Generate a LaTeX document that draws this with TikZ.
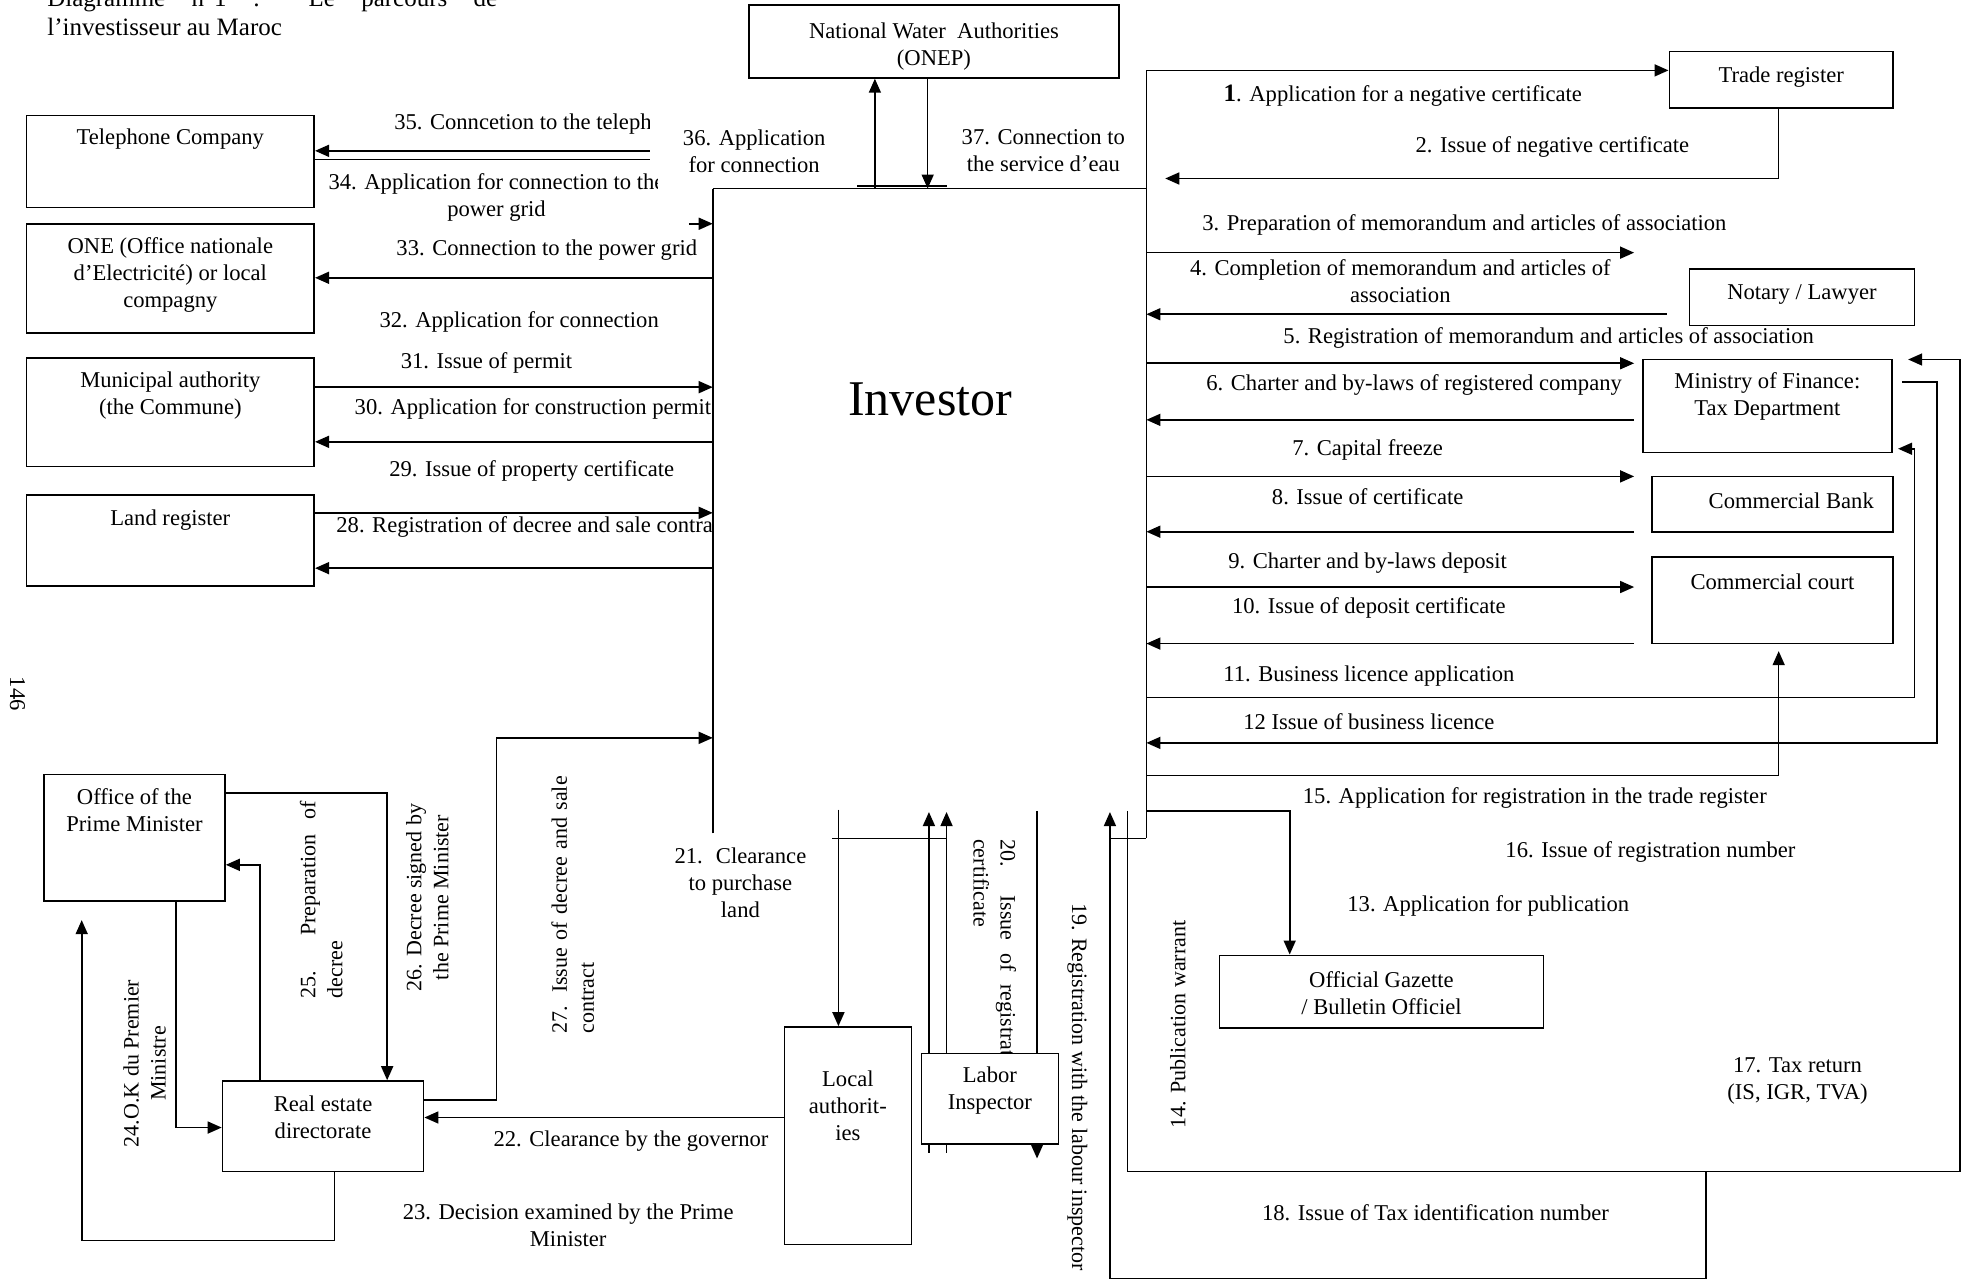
\documentclass[tikz,border=0pt]{standalone}
\usepackage{fontspec}
\setmainfont{Liberation Serif}
\usetikzlibrary{arrows.meta}
\newdimen\pxu \pxu=0.6285pt
\hyphenpenalty=10000
\tolerance=10000

\begin{document}
\begin{tikzpicture}[x=0.6285pt, y=-0.6285pt, >={Triangle[length=7pt,width=6pt]},
  font=\fontsize{11.3}{13.5}\selectfont, line width=0.8pt,
  bx/.style={draw, fill=white, inner sep=0pt},
  lb/.style={align=center, inner sep=0pt},
  rl/.style={inner sep=0pt, font=\fontsize{11}{13.5}\selectfont}]
  \useasboundingbox (0,0) rectangle (1568,1019);

  \node[anchor=base west, inner sep=0pt, font=\fontsize{12.5}{14}\selectfont] (ti1) at (37,5) {\makebox[225pt][s]{Diagramme n°1 : Le parcours de}};
  \node[anchor=base west, inner sep=0pt, font=\fontsize{12.5}{14}\selectfont] (ti2) at (37,28) {l’investisseur au Maroc};
  \node[rotate=-90, inner sep=0pt] (pg) at (14,552) {146};

  \node[bx, minimum width=229*\pxu, minimum height=73*\pxu] (tel) at (135.5,128.5) {};
  \node[lb] (tel-t) at (135.5,111) {Telephone Company};
  \node[bx, minimum width=229*\pxu, minimum height=87*\pxu] (one) at (135.5,221.5) {};
  \node[lb] (one-t) at (135.5,219) {ONE (Office nationale\\d’Electricité) or local\\compagny};
  \node[bx, minimum width=229*\pxu, minimum height=86*\pxu] (mun) at (135.5,328) {};
  \node[lb] (mun-t) at (135.5,315) {Municipal authority\\(the Commune)};
  \node[bx, minimum width=229*\pxu, minimum height=72*\pxu] (land) at (135.5,430) {};
  \node[lb] (land-t) at (135.5,414) {Land register};
  \node[bx, minimum width=294*\pxu, minimum height=58*\pxu] (onep) at (743,33) {};
  \node[lb] (onep-t) at (743,37) {National Water~ Authorities\\(ONEP)};
  \node[bx, minimum width=178*\pxu, minimum height=45*\pxu] (trade) at (1417,63.5) {};
  \node[lb] (trade-t) at (1417,61) {Trade register};
  \node[bx, minimum width=179*\pxu, minimum height=45*\pxu] (not) at (1433.5,236.5) {};
  \node[lb] (not-t) at (1433.5,234) {Notary / Lawyer};
  \node[bx, minimum width=198*\pxu, minimum height=74*\pxu] (min) at (1406,323) {};
  \node[lb] (min-t) at (1406,315.5) {Ministry of Finance:\\Tax Department};
  \node[bx, minimum width=192*\pxu, minimum height=44*\pxu] (bank) at (1410,401) {};
  \node[lb] (bank-t) at (1425,398) {Commercial Bank};
  \node[bx, minimum width=192*\pxu, minimum height=69*\pxu] (court) at (1410,477.5) {};
  \node[lb] (court-t) at (1410,463) {Commercial court};
  \node[bx, minimum width=258*\pxu, minimum height=58*\pxu] (gaz) at (1099,789) {};
  \node[lb] (gaz-t) at (1099,790) {Official Gazette\\/ Bulletin Officiel};
  \node[bx, minimum width=144*\pxu, minimum height=101*\pxu] (off) at (107,666.5) {};
  \node[lb] (off-t) at (107,644.5) {Office of the\\Prime Minister};
  \node[bx, minimum width=160*\pxu, minimum height=72*\pxu] (real) at (257,896) {};
  \node[lb] (real-t) at (257,888.5) {Real estate\\directorate};
  \node[bx, minimum width=101*\pxu, minimum height=173*\pxu] (loc) at (674.5,903.5) {};
  \node[lb] (loc-t) at (674.5,880) {Local\\authorit-\\ies};
  \node[bx, minimum width=109*\pxu, minimum height=72*\pxu] (lab) at (787.5,874) {};
  \node[lb] (lab-t) at (787.5,867.5) {Labor\\Inspector};

  \coordinate (iNW) at (567,150); \coordinate (iNE) at (912,150);
  \coordinate (iSW) at (567,663); \coordinate (iSE) at (912,667); \coordinate (iTop) at (912,56);
  \draw (iSW) -- (iNW); \draw[line width=0.5pt] (iNW) -- (iNE); \draw (iTop) -- (iSE);
  \node[font=\fontsize{25}{30}\selectfont] (inv) at (740,318) {Investor};

  \coordinate (t35) at (517,120); \coordinate (t34) at (517,127); \coordinate (h34) at (548,178);
  \draw[->] (t35) -- (tel.east |- t35);
  \draw (tel.east |- t34) -- (t34);
  \draw[->] (h34) -- (iNW |- h34);
  \draw[->] (iNW |- 0,221) -- (one.east |- 0,221);
  \draw[->] (mun.east |- 0,308) -- (iNW |- 0,308);
  \draw[->] (iNW |- 0,351.5) -- (mun.east |- 0,351.5);
  \draw[->] (land.east |- 0,408) -- (iNW |- 0,408);
  \draw[->] (iNW |- 0,452) -- (land.east |- 0,452);
  \draw[->] (real.east |- 0,875) -| (395,587) -- (iNW |- 0,587);
  \draw[->] (loc.west |- 0,889) -- (real.east |- 0,889);
  \draw[->] (off.east |- 0,631) -| (real.north -| 308,0);
  \draw[->] (real.north -| 207,0) |- (off.east |- 0,688);
  \draw[->] (off.south -| 140,0) |- (real.west |- 0,897);
  \coordinate (t23) at (65,732);
  \draw[->] (real.south -| 266,0) |- (65,987) -- (t23);

  \coordinate (t21) at (667,644);
  \draw[->] (t21) -- (loc.north -| t21);
  \draw (662,667) -- (753,667);
  \draw[->] (lab.north -| 739,0) -- (739,646); \draw (lab.south -| 739,0) -- ++(0,7);
  \draw[->] (lab.north -| 753,0) -- (753,646); \draw (lab.south -| 753,0) -- ++(0,7);
  \coordinate (t19) at (825,645);
  \draw (t19) -- (lab.north -| t19); \draw[->] (lab.south -| t19) -- ++(0,11);
  \draw[->] (iNW -| 696,0) -- (onep.south -| 696,0);
  \draw[->] (onep.south -| 738,0) -- (iNW -| 738,0);
  \draw[line width=1.1pt] (682,148) -- (753,148);

  \draw[->] (iTop) -- (trade.west |- iTop);
  \draw[->] (trade.south -| 1415,0) |- (927,142);
  \draw[->] (iNE |- 0,201) -- (1300,201);
  \draw[->] (1326,250) -- (iNE |- 0,250);
  \draw[->] (iNE |- 0,289) -- (1300,289);
  \draw[->] (1300,334) -- (iNE |- 0,334);
  \draw[->] (iNE |- 0,379) -- (1300,379);
  \draw[->] (1300,423) -- (iNE |- 0,423);
  \draw[->] (iNE |- 0,467) -- (1300,467);
  \draw[->] (1300,512) -- (iNE |- 0,512);
  \draw[->] (iNE |- 0,555) -| (1523,357) -- (1510,357);
  \draw[->] (1513,304) -| (1541,591) -- (iNE |- 0,591);
  \draw[->] (iNE |- 0,617) -| (1415,518);
  \draw[->] (iNE |- 0,645) -| (gaz.north -| 1026,0);
  \draw[->] (897,645) |- (1559,932) |- (1518,286);
  \draw[->] (1357,932) |- (883,1017) -- (883,646);
  \draw (883,667) -- (iSE);

  \begin{scope}
    \clip (250,80) rectangle (517,112);
    \node[lb, anchor=west] (l35) at (313,99) {35. Conncetion to the telephone};
  \end{scope}
  \begin{scope}
    \clip (250,132) rectangle (523,180);
    \node[lb] (l34) at (395,157.5) {34. Application for connection to the\\power grid};
  \end{scope}
  \node[lb] (l33) at (435,199) {33. Connection to the power grid};
  \node[lb] (l32) at (413,256) {32. Application for connection};
  \node[lb] (l31) at (387,289) {31. Issue of permit};
  \node[lb] (l30) at (424,325) {30. Application for construction permit};
  \node[lb] (l29) at (423,375) {29. Issue of property certificate};
  \begin{scope}
    \clip (250,410) rectangle (566,430);
    \node[lb, anchor=west] (l28) at (267,419) {28. Registration of decree and sale contract};
  \end{scope}
  \node[lb] (l36) at (600,120) {36. Application\\for connection};
  \node[lb] (l37) at (830,120) {37. Connection to\\the service d’eau};

  \node[lb] (l1) at (1116,76) {{\fontsize{12.5}{13.5}\selectfont\bfseries 1}. Application for a negative certificate};
  \node[lb] (l2) at (1235,117) {2. Issue of negative certificate};
  \node[lb] (l3) at (1165,179) {3. Preparation of memorandum and articles of association};
  \node[lb] (l4) at (1114,224) {4. Completion of memorandum and articles of\\association};
  \node[lb] (l5) at (1232,269) {5. Registration of memorandum and articles of association};
  \node[lb] (l6) at (1125,306) {6. Charter and by-laws of registered company};
  \node[lb] (l7) at (1088,358) {7. Capital freeze};
  \node[lb] (l8) at (1088,395) {8. Issue of certificate};
  \node[lb] (l9) at (1088,448) {9. Charter and by-laws deposit};
  \node[lb] (l10) at (1089,484) {10. Issue of deposit certificate};
  \node[lb] (l11) at (1089,538) {11. Business licence application};
  \node[lb] (l12) at (1089,574) {12 Issue of business licence};
  \node[lb] (l15) at (1221,635) {15. Application for registration in the trade register};
  \node[lb] (l16) at (1313,678) {16. Issue of registration number};
  \node[lb] (l13) at (1184,721) {13. Application for publication};
  \node[rl, rotate=90] (l14) at (937,815) {14. Publication warrant};
  \node[lb] (l17) at (1430,860) {17. Tax return\\(IS, IGR, TVA)};
  \node[lb] (l18) at (1142,965) {18. Issue of Tax identification number};

  \node[rl, rotate=-90, anchor=west] (l19) at (857,718) {19. Registration with the labour inspector};
  \begin{scope}
    \clip (760,650) rectangle (lab.north east);
    \node[rl, rotate=-90, anchor=north west, text width=122.6pt, align=justify] (l20) at (809,667) {20. Issue of registration certificate};
  \end{scope}
  \node[lb] (l21) at (589,702) {21.~ Clearance\\to purchase\\land};
  \node[lb] (l22) at (502,908) {22. Clearance by the governor};
  \node[lb] (l23) at (452,975) {23. Decision examined by the Prime\\Minister};
  \node[rl, rotate=90, align=center] (l24) at (115,846) {24.O.K du Premier\\Ministre};
  \node[rl, rotate=90, anchor=north west, text width=98.7pt, align=justify] (l25) at (238,795) {25. Preparation of decree};
  \node[rl, rotate=90, align=center] (l26) at (340,714) {26. Decree signed by\\the Prime Minister};
  \node[rl, rotate=90, anchor=north west, text width=128.8pt, align=justify] (l27) at (438,823) {27. Issue of decree and sale contract};
\end{tikzpicture}
\end{document}
